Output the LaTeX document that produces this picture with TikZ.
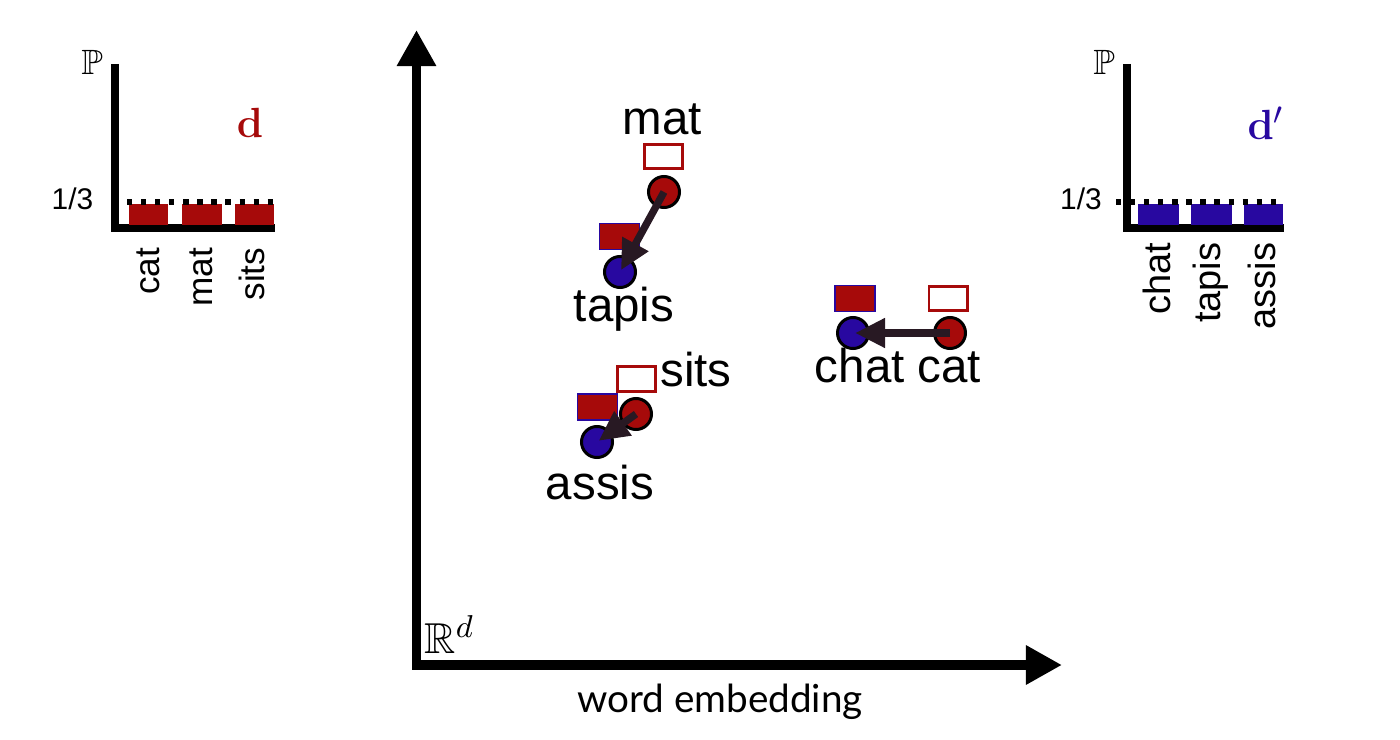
\documentclass[tikz,border=0pt]{standalone}
\usepackage{amssymb}
\usepackage[no-math]{fontspec}
\setmainfont{Liberation Sans}
\newfontfamily\gillfont{Lato}
\usetikzlibrary{arrows.meta}
\definecolor{myred}{RGB}{166,10,10}
\definecolor{myblue}{RGB}{40,8,160}
\definecolor{arrowc}{RGB}{40,25,35}
\begin{document}
\begin{tikzpicture}[x=0.01cm,y=-0.01cm,
  word/.style={font=\fontsize{13.5}{16}\selectfont, inner sep=0pt, anchor=base},
  histlabL/.style={font=\fontsize{10}{12}\selectfont, inner sep=0pt, rotate=90, anchor=east},
  histlabR/.style={font=\fontsize{10.8}{12}\selectfont, inner sep=0pt, rotate=90, anchor=east},
  frac/.style={font=\fontsize{8.5}{10}\selectfont, inner sep=0pt},
  prob/.style={font=\fontsize{10}{12}\selectfont, inner sep=0pt},
  pt/.style={circle, draw=black, line width=0.85pt, minimum size=0.31cm, inner sep=0pt},
  redpt/.style={pt, fill=myred},
  bluept/.style={pt, fill=myblue},
  emptybox/.style={draw=myred, line width=0.85pt, fill=white, minimum width=0.38cm, minimum height=0.24cm, inner sep=0pt},
  fullbox/.style={draw=myblue, line width=0.4pt, fill=myred, minimum width=0.40cm, minimum height=0.26cm, inner sep=0pt},
  move/.style={draw=arrowc, line width=2.1pt, shorten >=0.02cm, -{Triangle[length=0.3cm,width=0.28cm]}},
  mainaxis/.style={line width=2.6pt, line join=miter, {Triangle[length=0.36cm,width=0.37cm]}-{Triangle[length=0.36cm,width=0.37cm]}},
  histaxis/.style={line width=2pt, line join=miter},
  level/.style={line width=1.5pt, dash pattern=on 1.5pt off 2.5pt},
]
\useasboundingbox (0,0) rectangle (1400,740);

% ---------- left histogram ----------
\draw[histaxis] (115,64) -- (115,228) -- (275,228);
\fill[myred] (129,204) rectangle (168,225);
\fill[myred] (182,204) rectangle (222,225);
\fill[myred] (235,204) rectangle (274,225);
\draw[level] (127,202) -- (275,202);
\node[prob] (PL) at (92,62) {$\mathbb{P}$};
\node[frac] (thirdL) at (72.5,199) {1/3};
\node[font=\fontsize{13}{15}\selectfont, text=myred, inner sep=0pt, anchor=base] (dL) at (250,138) {$\mathbf{d}$};
\node[histlabL] (lcat) at (148,247) {cat};
\node[histlabL] (lmat) at (201,247) {mat};
\node[histlabL] (lsits) at (252,247) {sits};

% ---------- right histogram ----------
\draw[histaxis] (1127,64) -- (1127,228) -- (1284,228);
\fill[myblue] (1138,204) rectangle (1179,225);
\fill[myblue] (1191,204) rectangle (1232,225);
\fill[myblue] (1244,204) rectangle (1283,225);
\draw[level] (1116,202) -- (1284,202);
\node[prob] (PR) at (1104,62) {$\mathbb{P}$};
\node[frac] (thirdR) at (1081,199) {1/3};
\node[font=\fontsize{13}{15}\selectfont, text=myblue, inner sep=0pt, anchor=base] (dR) at (1266,140) {$\mathbf{d}'$};
\node[histlabR] (rchat) at (1157,242) {chat};
\node[histlabR] (rtapis) at (1211,242) {tapis};
\node[histlabR] (rassis) at (1262,242) {assis};

% ---------- main axes ----------
\draw[mainaxis] (416.5,30) -- (416.5,665) -- (1062,665);
\node[font=\fontsize{12.3}{14}\selectfont, inner sep=0pt, anchor=base west] (Rd) at (424,653) {$\mathbb{R}^d$};
\node[font=\gillfont\fontsize{11}{13}\selectfont, inner sep=0pt, anchor=base] (we) at (720,712) {word embedding};

% ---------- mat / tapis ----------
\node[emptybox] (matbox) at (663.5,156.5) {};
\node[redpt] (mat) at (664,192) {};
\node[fullbox] (tapisbox) at (619.5,236.5) {};
\node[bluept] (tapis) at (620,272) {};
\node[word] (matlab) at (662.5,135) {mat};
\node[word] (tapislab) at (624,322) {tapis};

% ---------- sits / assis ----------
\node[emptybox] (sitsbox) at (636.5,379) {};
\node[fullbox] (assisbox) at (597.5,407) {};
\node[redpt] (sits) at (636,414) {};
\node[bluept] (assis) at (597,442) {};
\node[word] (sitslab) at (696,387) {sits};
\node[word] (assislab) at (600,499) {assis};

% ---------- cat / chat ----------
\node[fullbox] (chatbox) at (855,298.5) {};
\node[emptybox] (catbox) at (948,298.5) {};
\node[bluept] (chat) at (853,333) {};
\node[redpt] (cat) at (950,333) {};
\node[word] (chatcatlab) at (898,383) {chat cat};

% ---------- arrows ----------
\draw[move] (mat.center) -- (tapis.center);
\draw[move] (sits.center) -- (assis.center);
\draw[move] (cat.center) -- (chat.center);
\end{tikzpicture}
\end{document}
